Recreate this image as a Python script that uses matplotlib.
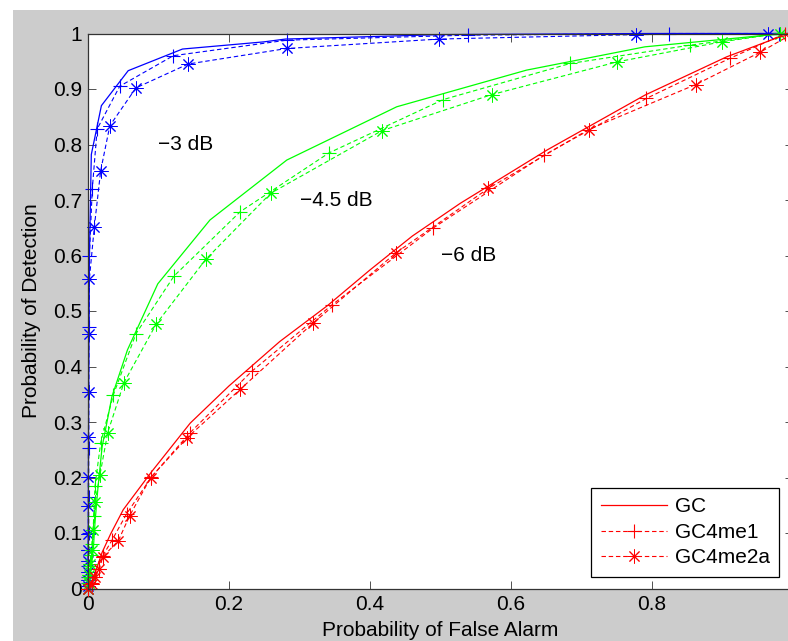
import matplotlib
import matplotlib.pyplot as plt
from matplotlib.lines import Line2D
from matplotlib.patches import Rectangle

matplotlib.use("Agg")

plt.rcParams["font.family"] = ["Liberation Sans", "DejaVu Sans"]

# ── Data ─────────────────────────────────────────────────────────────────────
# -3 dB
fa_gc_3 = [0, 0.0005, 0.001, 0.002, 0.0047, 0.019, 0.057, 0.134, 0.25, 0.28, 0.5, 0.8, 1]
pd_gc_3 = [0, 0.15, 0.35, 0.6, 0.782, 0.870, 0.933, 0.972, 0.985, 0.99, 0.998, 1.0, 1]
fa_m1_3 = [0, 0.0003, 0.0005, 0.0005, 0.0005, 0.001, 0.001, 0.001, 0.001, 0.002,
           0.006, 0.013, 0.045, 0.121, 0.282, 0.539, 0.824, 0.98, 1]
pd_m1_3 = [0, 0.01, 0.02, 0.04, 0.07, 0.1, 0.165, 0.253, 0.472, 0.599,
           0.719, 0.828, 0.905, 0.960, 0.988, 0.997, 1.0, 1.0, 1]
fa_m2_3 = [0, 0.0002, 0.0003, 0.0005, 0.0005, 0.0005, 0.0005, 0.0005, 0.0005, 0.0007,
           0.0008, 0.001, 0.002, 0.009, 0.018, 0.031, 0.068, 0.142, 0.282, 0.498,
           0.777, 0.964, 1]
pd_m2_3 = [0, 0.005, 0.015, 0.03, 0.05, 0.069, 0.099, 0.149, 0.201, 0.273,
           0.354, 0.458, 0.558, 0.652, 0.753, 0.834, 0.902, 0.945, 0.973, 0.990,
           0.998, 1.0, 1]

# -4.5 dB
fa_gc_45 = [0, 0.002, 0.004, 0.0075, 0.01, 0.014, 0.020, 0.034, 0.056, 0.099,
            0.173, 0.282, 0.438, 0.622, 0.79, 0.963, 1]
pd_gc_45 = [0, 0.01, 0.03, 0.07, 0.12, 0.18, 0.255, 0.346, 0.430, 0.549,
            0.664, 0.772, 0.868, 0.934, 0.976, 0.997, 1]
fa_m1_45 = [0, 0.001, 0.002, 0.003, 0.004, 0.006, 0.0075, 0.008, 0.01, 0.018,
            0.036, 0.068, 0.122, 0.216, 0.342, 0.504, 0.684, 0.854, 0.981, 1]
pd_m1_45 = [0, 0.01, 0.02, 0.04, 0.06, 0.08, 0.105, 0.13, 0.185, 0.263,
            0.349, 0.459, 0.563, 0.679, 0.785, 0.881, 0.946, 0.979, 1.0, 1]
fa_m2_45 = [0, 0.001, 0.002, 0.003, 0.005, 0.007, 0.010, 0.017, 0.028, 0.051,
            0.097, 0.167, 0.259, 0.417, 0.573, 0.751, 0.899, 0.981, 1]
pd_m2_45 = [0, 0.01, 0.025, 0.045, 0.07, 0.105, 0.155, 0.205, 0.281, 0.371,
            0.477, 0.593, 0.712, 0.825, 0.890, 0.949, 0.985, 1.0, 1]

# -6 dB
fa_gc_6 = [0, 0.005, 0.012, 0.02, 0.032, 0.05, 0.09, 0.145, 0.2, 0.272,
           0.34, 0.4, 0.46, 0.528, 0.651, 0.79, 0.906, 0.977, 1]
pd_gc_6 = [0, 0.012, 0.035, 0.065, 0.098, 0.142, 0.21, 0.298, 0.365, 0.445,
           0.51, 0.574, 0.635, 0.694, 0.79, 0.889, 0.958, 0.992, 1]
fa_m1_6 = [0, 0.005, 0.01, 0.015, 0.021, 0.034, 0.055, 0.090, 0.145, 0.232,
           0.346, 0.489, 0.647, 0.792, 0.910, 0.989, 1]
pd_m1_6 = [0, 0.01, 0.021, 0.036, 0.059, 0.087, 0.135, 0.201, 0.281, 0.391,
           0.511, 0.649, 0.781, 0.883, 0.955, 1.0, 1]
fa_m2_6 = [0, 0.005, 0.01, 0.016, 0.021, 0.043, 0.059, 0.089, 0.141, 0.216,
           0.319, 0.437, 0.568, 0.710, 0.862, 0.953, 1]
pd_m2_6 = [0, 0.008, 0.02, 0.035, 0.057, 0.086, 0.131, 0.200, 0.272, 0.359,
           0.478, 0.605, 0.721, 0.827, 0.908, 0.966, 1]

curves = [
    ("b", fa_gc_3, pd_gc_3, fa_m1_3, pd_m1_3, fa_m2_3, pd_m2_3),
    ("#00ff00", fa_gc_45, pd_gc_45, fa_m1_45, pd_m1_45, fa_m2_45, pd_m2_45),
    ("r", fa_gc_6, pd_gc_6, fa_m1_6, pd_m1_6, fa_m2_6, pd_m2_6),
]
snr_labels = ["\u22123 dB", "\u22124.5 dB", "\u22126 dB"]
snr_label_pos = [(0.1, 0.8), (0.3, 0.7), (0.5, 0.6)]
legend_labels = ["GC", "GC4me1", "GC4me2a"]

# ── Plot ──────────────────────────────────────────────────────────────────────
W, H = 788, 641
fig = plt.figure(figsize=(W / 100, H / 100), dpi=100, facecolor="white")
fig.patches.append(Rectangle((13 / W, 0), 1, (H - 10) / H, transform=fig.transFigure,
                             facecolor="#cccccc", edgecolor="none", zorder=-10))

ax = fig.add_axes([88 / W, 52.5 / H, 705 / W, 555 / H])
ax.set_facecolor("white")

FS = 15
LW = 0.9
DLW = 0.8
dash = (4, 2.5)
star = (8, 2, 0)

for color, fa_gc, pd_gc, fa_m1, pd_m1, fa_m2, pd_m2 in curves:
    ax.plot(fa_gc, pd_gc, color=color, lw=LW, clip_on=False)
    ax.plot(fa_m1, pd_m1, color=color, lw=DLW, dashes=dash, marker="+",
            ms=10, mew=0.8, clip_on=False)
    ax.plot(fa_m2, pd_m2, color=color, lw=DLW, dashes=dash, marker=star,
            ms=10, mew=0.7, clip_on=False)

for txt, (x, y) in zip(snr_labels, snr_label_pos):
    ax.text(x, y, txt, fontsize=FS, ha="left", va="center")

ax.set_xlim(0, 1)
ax.set_ylim(0, 1)
ax.set_xticks([0, 0.2, 0.4, 0.6, 0.8, 1])
ax.set_xticklabels(["0", "0.2", "0.4", "0.6", "0.8", "1"])
ax.set_yticks([i / 10 for i in range(11)])
ax.set_yticklabels(["0"] + [f"0.{i}" for i in range(1, 10)] + ["1"])
ax.tick_params(direction="in", length=5.5, width=0.6, colors="#333333",
               labelcolor="black", labelsize=FS, top=True, right=True, pad=4.5)
for sp in ax.spines.values():
    sp.set_color("#333333")
    sp.set_linewidth(0.9)

ax.set_xlabel("Probability of False Alarm", fontsize=FS)
ax.set_ylabel("Probability of Detection", fontsize=FS)
ax.xaxis.set_label_coords(0.5, -0.058)
ax.yaxis.set_label_coords(-0.066, 0.5)

handles = [
    Line2D([], [], color="r", lw=LW),
    Line2D([], [], color="r", lw=DLW, dashes=dash, marker="+", ms=10, mew=0.8),
    Line2D([], [], color="r", lw=DLW, dashes=dash, marker=star, ms=10, mew=0.7),
]
leg = ax.legend(handles, legend_labels, loc="lower right", bbox_to_anchor=(0.980, 0.021),
                borderaxespad=0, fontsize=FS, fancybox=False, framealpha=1,
                edgecolor="black", handlelength=3.2, handletextpad=0.35,
                labelspacing=0.32, borderpad=0.45)
leg.get_frame().set_linewidth(0.9)

fig.savefig("out.png", dpi=100)
plt.close(fig)
